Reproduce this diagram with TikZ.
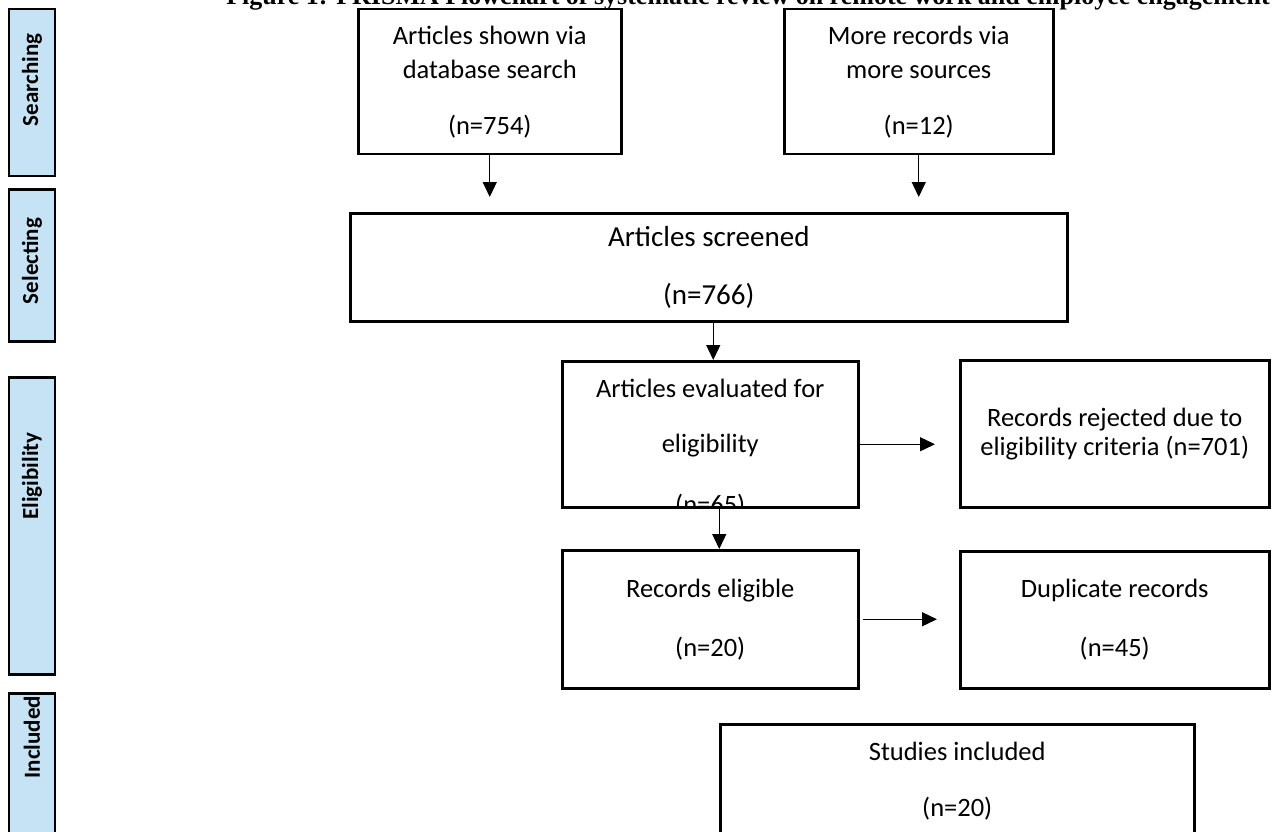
\documentclass[tikz,border=0pt]{standalone}
\usepackage{fontspec}
\setmainfont{Carlito}
\newfontfamily\titlefont{Liberation Serif}
\usetikzlibrary{
    arrows.meta,
    positioning,
    calc
}
\definecolor{stagebg}{RGB}{197,227,244}

\begin{document}
\begin{tikzpicture}[
    x=1pt, y=-1pt,
    box/.style={rectangle, draw, line width=2.5pt, anchor=north west, align=center, inner sep=0pt, font=\fontsize{26.5}{34}\selectfont},
    stage/.style={rectangle, draw, line width=2.5pt, fill=stagebg, anchor=north, minimum width=46pt},
    stagetext/.style={rotate=90, font=\bfseries\fontsize{23}{27}\selectfont},
    arrow/.style={-{Triangle[width=14pt, length=15pt]}, line width=1.3pt}
]
\useasboundingbox (0,0) rectangle (1272,832);

\node[font=\titlefont\bfseries\fontsize{26}{30}\selectfont, anchor=base] (title) at (748,5)
    {Figure 1: PRISMA Flowchart of systematic review on remote work and employee engagement};

% Stages
\node[stage, minimum height=167pt] (srchbar) at (32,8) {};
\node[stagetext] (srchlbl) at (32,80) {Searching};
\node[stage, minimum height=152pt] (selbar) at (32,188) {};
\node[stagetext] (sellbl) at (32,261) {Selecting};
\node[stage, minimum height=297pt] (eligbar) at (32,376) {};
\node[stagetext] (eliglbl) at (32,476) {Eligibility};
\node[stage, minimum height=180pt] (inclbar) at (32,692) {};
\node[stagetext] (incllbl) at (32,737) {Included};

% Boxes
\node[box, minimum width=263pt, minimum height=145pt] (dbsearch) at (357,8)
    {Articles shown via\\database search\\[22pt](n=754)};
\node[box, minimum width=269pt, minimum height=145pt] (other) at (783,8)
    {More records via\\more sources\\[22pt](n=12)};
\node[box, minimum width=717pt, minimum height=108pt, font=\fontsize{29}{36}\selectfont] (screen) at (349,212)
    {Articles screened\\[22pt](n=766)};
\node[box, minimum width=296pt, minimum height=146pt,
    path picture={\node[anchor=north, align=center, font=\fontsize{26.5}{34}\selectfont]
        at ([yshift=-13pt]path picture bounding box.north)
        {Articles evaluated for\\[21pt]eligibility\\[27pt](n=65)};}] (evaluated) at (561,360) {};
\node[box, minimum width=309pt, minimum height=147pt, font=\fontsize{26.5}{29}\selectfont] (rejected) at (959,359)
    {Records rejected due to\\eligibility criteria (n=701)};
\node[box, minimum width=296pt, minimum height=138pt] (eligible) at (561,549)
    {Records eligible\\[25pt](n=20)};
\node[box, minimum width=309pt, minimum height=137pt] (dupl) at (959,550)
    {Duplicate records\\[25pt](n=45)};
\node[box, minimum width=474pt, minimum height=114pt] (included) at (719,723)
    {Studies included\\[22pt](n=20)};

% Connectors
\draw[arrow, shorten >=15pt] (dbsearch.south) -- (dbsearch.south |- screen.north);
\draw[arrow, shorten >=15pt] (other.south) -- (other.south |- screen.north);
\draw[arrow] ([xshift=3pt]screen.south -| evaluated.north) -- ([xshift=3pt]evaluated.north);
\draw[arrow, shorten >=24pt] ([yshift=-10pt]evaluated.east) -- ([yshift=-10pt]evaluated.east -| rejected.west);
\draw[arrow] ([xshift=9pt]evaluated.south) -- ([xshift=9pt]eligible.north);
\draw[arrow, shorten <=3pt, shorten >=22pt] (eligible.east) -- (eligible.east -| dupl.west);
\end{tikzpicture}
\end{document}
